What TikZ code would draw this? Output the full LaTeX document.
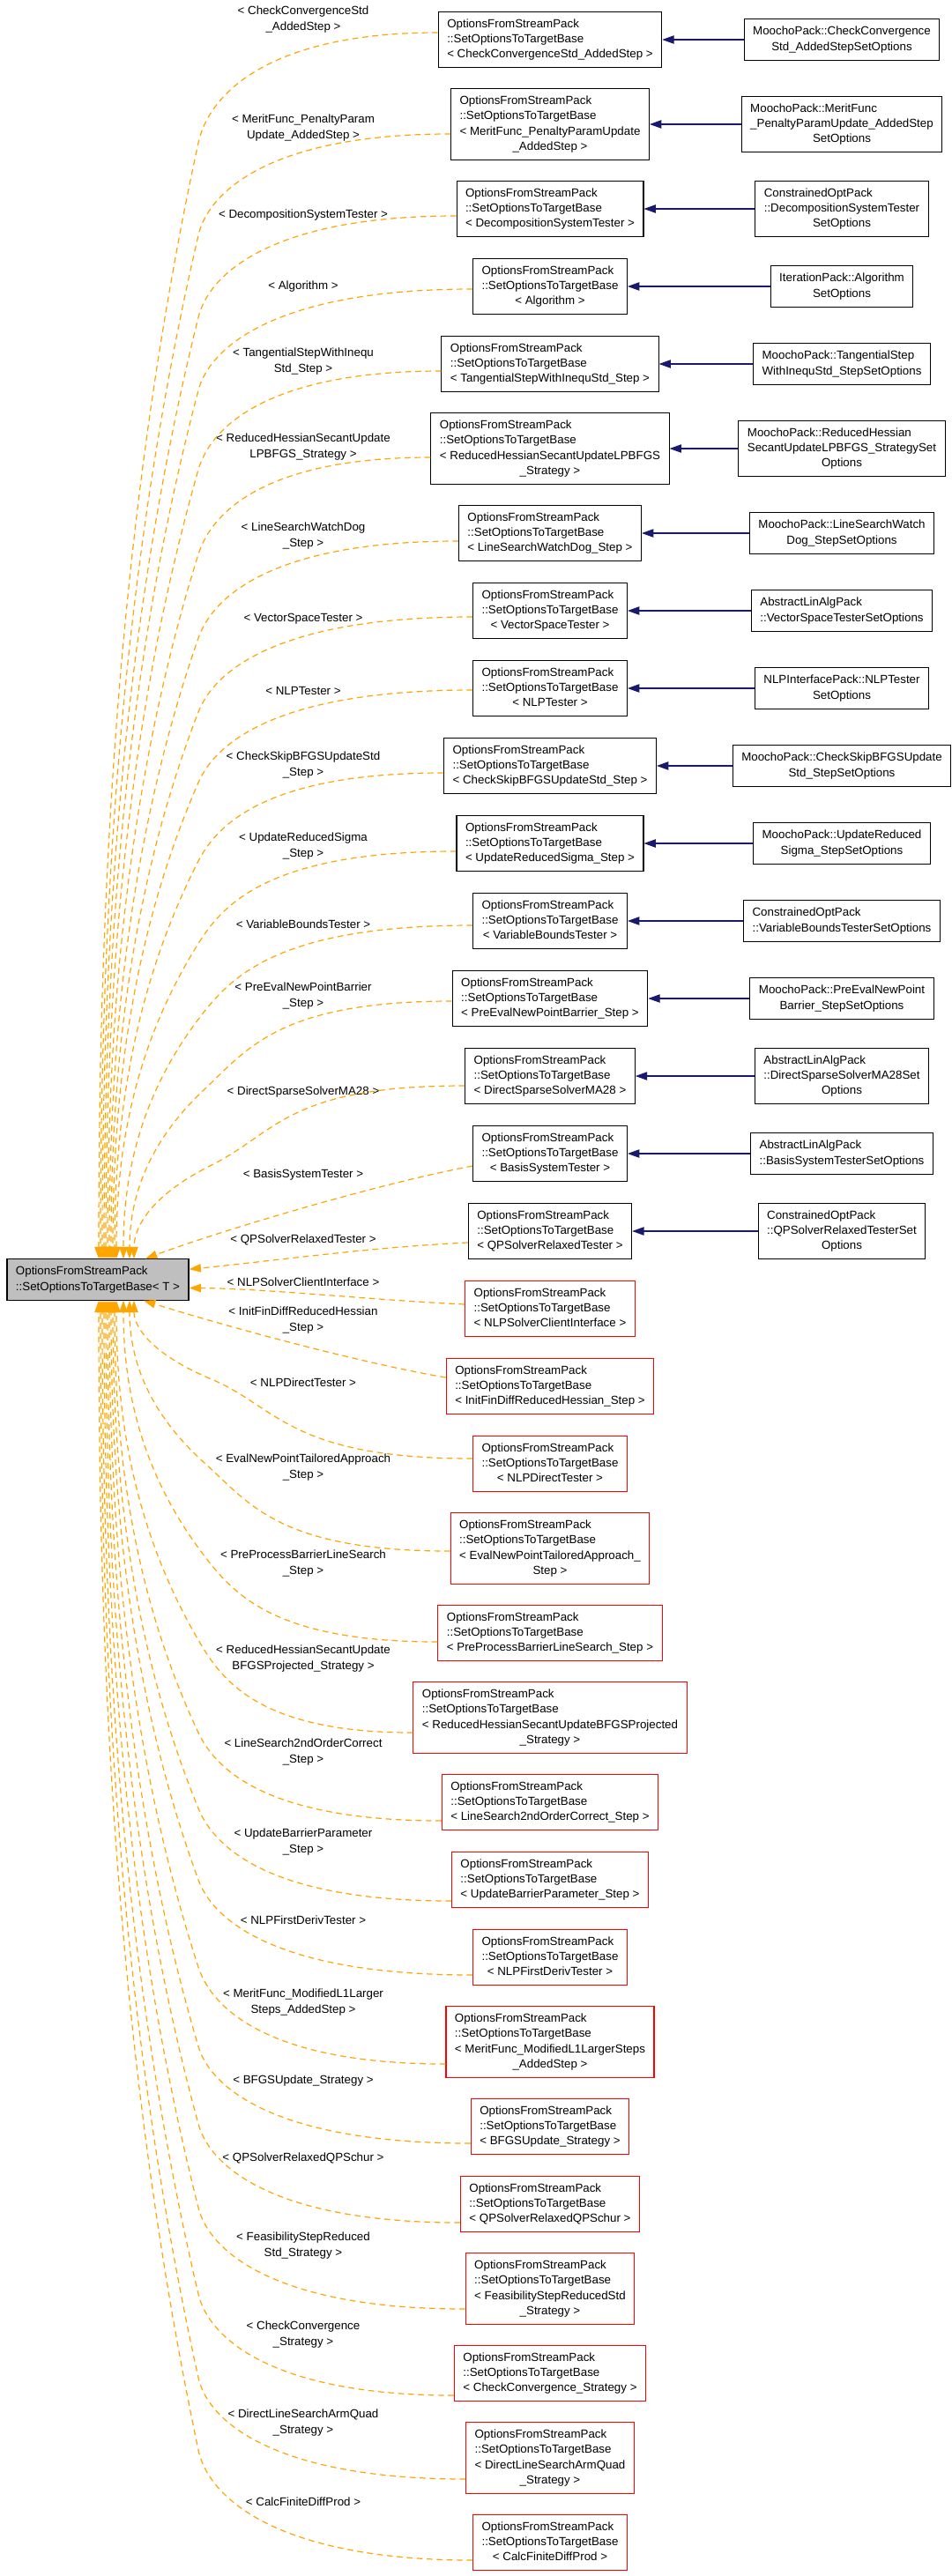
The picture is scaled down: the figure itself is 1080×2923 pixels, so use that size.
\documentclass[tikz,border=0pt]{standalone}
\usepackage{fontspec}
\setmainfont{Liberation Sans}
\usetikzlibrary{calc,arrows.meta}
\definecolor{midnight}{rgb}{0.098,0.098,0.439}
\definecolor{tmplorange}{rgb}{1.0,0.647,0.0}
\definecolor{basegray}{rgb}{0.75,0.75,0.75}
\tikzset{
  cls/.style={draw=black, line width=0.8pt, fill=white, inner xsep=7.5pt, inner ysep=4.4pt,
    font=\fontsize{10}{13}\selectfont},
  undoc/.style={cls, draw=red},
  base/.style={cls, fill=basegray},
  lbl/.style={font=\fontsize{10}{13}\selectfont, align=center, inner sep=0pt},
  pub/.style={draw=midnight, line width=0.8pt, -{Triangle[length=10pt,width=7pt]}},
  tmpl/.style={draw=tmplorange, line width=0.9pt, dash pattern=on 5pt off 3.5pt,
    -{Triangle[length=10pt,width=7pt]}},
}
% class name: all lines left, last line centred
\newcommand{\cname}[2]{\begin{tabular}{@{}l@{}}#1\\\multicolumn{1}{@{}c@{}}{#2}\end{tabular}}
\newcommand{\tgt}[2]{\cname{OptionsFromStreamPack\\::SetOptionsToTargetBase#1}{#2}}

\begin{document}
\begin{tikzpicture}[x=0.75pt, y=-0.75pt]
  \def\xm{624}   % middle column
  \def\xr{955}   % right column
  \def\xl{344}   % edge labels
  \def\btop{1429} % top of base box
  \def\bbot{1475} % bottom of base box
  \fill[white] (0,0) rectangle (1080,2923);
  \useasboundingbox (0,0) rectangle (1080,2923);

  \node[base] (base) at (111,1452) {\cname{OptionsFromStreamPack}{::SetOptionsToTargetBase< T >}};

  % documented instantiations
  \node[cls] (m1) at (\xm,45) {\tgt{}{< CheckConvergenceStd\_AddedStep >}};
  \node[cls] (m2) at (\xm,141) {\tgt{\\< MeritFunc\_PenaltyParamUpdate}{\_AddedStep >}};
  \node[cls] (m3) at (\xm,237) {\tgt{}{< DecompositionSystemTester >}};
  \node[cls] (m4) at (\xm,325) {\tgt{}{< Algorithm >}};
  \node[cls] (m5) at (\xm,413) {\tgt{}{< TangentialStepWithInequStd\_Step >}};
  \node[cls] (m6) at (\xm,509) {\tgt{\\< ReducedHessianSecantUpdateLPBFGS}{\_Strategy >}};
  \node[cls] (m7) at (\xm,605) {\tgt{}{< LineSearchWatchDog\_Step >}};
  \node[cls] (m8) at (\xm,693) {\tgt{}{< VectorSpaceTester >}};
  \node[cls] (m9) at (\xm,781) {\tgt{}{< NLPTester >}};
  \node[cls] (m10) at (\xm,869) {\tgt{}{< CheckSkipBFGSUpdateStd\_Step >}};
  \node[cls] (m11) at (\xm,957) {\tgt{}{< UpdateReducedSigma\_Step >}};
  \node[cls] (m12) at (\xm,1045) {\tgt{}{< VariableBoundsTester >}};
  \node[cls] (m13) at (\xm,1133) {\tgt{}{< PreEvalNewPointBarrier\_Step >}};
  \node[cls] (m14) at (\xm,1221) {\tgt{}{< DirectSparseSolverMA28 >}};
  \node[cls] (m15) at (\xm,1309) {\tgt{}{< BasisSystemTester >}};
  \node[cls] (m16) at (\xm,1397) {\tgt{}{< QPSolverRelaxedTester >}};
  % undocumented instantiations
  \node[undoc] (m17) at (\xm,1485) {\tgt{}{< NLPSolverClientInterface >}};
  \node[undoc] (m18) at (\xm,1573) {\tgt{}{< InitFinDiffReducedHessian\_Step >}};
  \node[undoc] (m19) at (\xm,1661) {\tgt{}{< NLPDirectTester >}};
  \node[undoc] (m20) at (\xm,1757) {\tgt{\\< EvalNewPointTailoredApproach\_}{Step >}};
  \node[undoc] (m21) at (\xm,1853) {\tgt{}{< PreProcessBarrierLineSearch\_Step >}};
  \node[undoc] (m22) at (\xm,1949) {\tgt{\\< ReducedHessianSecantUpdateBFGSProjected}{\_Strategy >}};
  \node[undoc] (m23) at (\xm,2045) {\tgt{}{< LineSearch2ndOrderCorrect\_Step >}};
  \node[undoc] (m24) at (\xm,2133) {\tgt{}{< UpdateBarrierParameter\_Step >}};
  \node[undoc] (m25) at (\xm,2221) {\tgt{}{< NLPFirstDerivTester >}};
  \node[undoc] (m26) at (\xm,2317) {\tgt{\\< MeritFunc\_ModifiedL1LargerSteps}{\_AddedStep >}};
  \node[undoc] (m27) at (\xm,2413) {\tgt{}{< BFGSUpdate\_Strategy >}};
  \node[undoc] (m28) at (\xm,2501) {\tgt{}{< QPSolverRelaxedQPSchur >}};
  \node[undoc] (m29) at (\xm,2597) {\tgt{\\< FeasibilityStepReducedStd}{\_Strategy >}};
  \node[undoc] (m30) at (\xm,2693) {\tgt{}{< CheckConvergence\_Strategy >}};
  \node[undoc] (m31) at (\xm,2789) {\tgt{\\< DirectLineSearchArmQuad}{\_Strategy >}};
  \node[undoc] (m32) at (\xm,2885) {\tgt{}{< CalcFiniteDiffProd >}};

  % derived SetOptions classes
  \node[cls] (r1) at (\xr,45) {\cname{MoochoPack::CheckConvergence}{Std\_AddedStepSetOptions}};
  \node[cls] (r2) at (\xr,141) {\cname{MoochoPack::MeritFunc\\\_PenaltyParamUpdate\_AddedStep}{SetOptions}};
  \node[cls] (r3) at (\xr,237) {\cname{ConstrainedOptPack\\::DecompositionSystemTester}{SetOptions}};
  \node[cls] (r4) at (\xr,325) {\cname{IterationPack::Algorithm}{SetOptions}};
  \node[cls] (r5) at (\xr,413) {\cname{MoochoPack::TangentialStep}{WithInequStd\_StepSetOptions}};
  \node[cls] (r6) at (\xr,509) {\cname{MoochoPack::ReducedHessian\\SecantUpdateLPBFGS\_StrategySet}{Options}};
  \node[cls] (r7) at (\xr,605) {\cname{MoochoPack::LineSearchWatch}{Dog\_StepSetOptions}};
  \node[cls] (r8) at (\xr,693) {\cname{AbstractLinAlgPack}{::VectorSpaceTesterSetOptions}};
  \node[cls] (r9) at (\xr,781) {\cname{NLPInterfacePack::NLPTester}{SetOptions}};
  \node[cls] (r10) at (\xr,869) {\cname{MoochoPack::CheckSkipBFGSUpdate}{Std\_StepSetOptions}};
  \node[cls] (r11) at (\xr,957) {\cname{MoochoPack::UpdateReduced}{Sigma\_StepSetOptions}};
  \node[cls] (r12) at (\xr,1045) {\cname{ConstrainedOptPack}{::VariableBoundsTesterSetOptions}};
  \node[cls] (r13) at (\xr,1133) {\cname{MoochoPack::PreEvalNewPoint}{Barrier\_StepSetOptions}};
  \node[cls] (r14) at (\xr,1221) {\cname{AbstractLinAlgPack\\::DirectSparseSolverMA28Set}{Options}};
  \node[cls] (r15) at (\xr,1309) {\cname{AbstractLinAlgPack}{::BasisSystemTesterSetOptions}};
  \node[cls] (r16) at (\xr,1397) {\cname{ConstrainedOptPack\\::QPSolverRelaxedTesterSet}{Options}};

  % edge labels
  \node[lbl] (l1) at (\xl,22) {< CheckConvergenceStd\\\_AddedStep >};
  \node[lbl] (l2) at (\xl,145) {< MeritFunc\_PenaltyParam\\Update\_AddedStep >};
  \node[lbl] (l3) at (\xl,244) {< DecompositionSystemTester >};
  \node[lbl] (l4) at (\xl,325) {< Algorithm >};
  \node[lbl] (l5) at (\xl,410) {< TangentialStepWithInequ\\Std\_Step >};
  \node[lbl] (l6) at (\xl,507) {< ReducedHessianSecantUpdate\\LPBFGS\_Strategy >};
  \node[lbl] (l7) at (\xl,608) {< LineSearchWatchDog\\\_Step >};
  \node[lbl] (l8) at (\xl,702) {< VectorSpaceTester >};
  \node[lbl] (l9) at (\xl,784) {< NLPTester >};
  \node[lbl] (l10) at (\xl,868) {< CheckSkipBFGSUpdateStd\\\_Step >};
  \node[lbl] (l11) at (\xl,960) {< UpdateReducedSigma\\\_Step >};
  \node[lbl] (l12) at (\xl,1049) {< VariableBoundsTester >};
  \node[lbl] (l13) at (\xl,1130) {< PreEvalNewPointBarrier\\\_Step >};
  \node[lbl] (l14) at (\xl,1239) {< DirectSparseSolverMA28 >};
  \node[lbl] (l15) at (\xl,1333) {< BasisSystemTester >};
  \node[lbl] (l16) at (\xl,1407) {< QPSolverRelaxedTester >};
  \node[lbl] (l17) at (\xl,1455) {< NLPSolverClientInterface >};
  \node[lbl] (l18) at (\xl,1498) {< InitFinDiffReducedHessian\\\_Step >};
  \node[lbl] (l19) at (\xl,1569) {< NLPDirectTester >};
  \node[lbl] (l20) at (\xl,1665) {< EvalNewPointTailoredApproach\\\_Step >};
  \node[lbl] (l21) at (\xl,1774) {< PreProcessBarrierLineSearch\\\_Step >};
  \node[lbl] (l22) at (\xl,1882) {< ReducedHessianSecantUpdate\\BFGSProjected\_Strategy >};
  \node[lbl] (l23) at (\xl,1988) {< LineSearch2ndOrderCorrect\\\_Step >};
  \node[lbl] (l24) at (\xl,2090) {< UpdateBarrierParameter\\\_Step >};
  \node[lbl] (l25) at (\xl,2179) {< NLPFirstDerivTester >};
  \node[lbl] (l26) at (\xl,2272) {< MeritFunc\_ModifiedL1Larger\\Steps\_AddedStep >};
  \node[lbl] (l27) at (\xl,2361) {< BFGSUpdate\_Strategy >};
  \node[lbl] (l28) at (\xl,2449) {< QPSolverRelaxedQPSchur >};
  \node[lbl] (l29) at (\xl,2548) {< FeasibilityStepReduced\\Std\_Strategy >};
  \node[lbl] (l30) at (\xl,2649) {< CheckConvergence\\\_Strategy >};
  \node[lbl] (l31) at (\xl,2749) {< DirectLineSearchArmQuad\\\_Strategy >};
  \node[lbl] (l32) at (\xl,2839) {< CalcFiniteDiffProd >};

  % public inheritance
  \foreach \i in {1,...,16} {
    \draw[pub] (r\i) -- (m\i);
  }

  % template instances, upper fan into top of base
  \foreach \i/\sy/\ex/\kx/\h in {1/37/112/225/125, 2/152/114/225/115, 3/245/116/225/115,
      4/328/118/225/115, 5/421/120/225/112, 6/519/122/225/110, 7/614/124/225/110,
      8/700/126/225/108, 9/783/128/225/105, 10/877/130/225/100, 11/966/132/228/100,
      12/1050/140/230/100, 13/1136/147/232/100, 14/1232/152/240/90} {
    \pgfmathsetmacro\ky{\sy+\h}
    \pgfmathsetmacro\L{\btop-\ky}
    \pgfmathsetmacro\dA{min(0.45*\h,0.35*\L)}
    \pgfmathsetmacro\cAx{\kx+2.43*(\kx-\ex)*\dA/\L}
    \pgfmathsetmacro\cAy{\ky-\dA}
    \pgfmathsetmacro\cBx{\ex+0.15*(\kx-\ex)}
    \pgfmathsetmacro\cBy{\ky+0.35*\L}
    \pgfmathsetmacro\cCy{\btop-0.3*\L}
    \coordinate (s\i) at (m\i.west |- 0,\sy);
    \draw[tmpl] (s\i) .. controls ($(s\i)!0.7!(\kx,\sy)$) and (\cAx,\cAy) .. (\kx,\ky)
      .. controls (\cBx,\cBy) and (\ex,\cCy) .. (\ex,0 |- base.north);
  }
  % template instances, lower fan into bottom of base
  \foreach \i/\sy/\ex/\kx/\h in {32/2905/112/225/125, 31/2813/114/225/115, 30/2718/116/225/115,
      29/2620/118/225/115, 28/2522/120/225/112, 27/2432/122/225/110, 26/2342/124/225/110,
      25/2241/126/225/108, 24/2157/128/225/105, 23/2066/130/225/100, 22/1966/132/228/100,
      21/1863/140/230/100, 20/1760/147/232/100, 19/1655/152/240/90} {
    \pgfmathsetmacro\ky{\sy-\h}
    \pgfmathsetmacro\L{\ky-\bbot}
    \pgfmathsetmacro\dA{min(0.45*\h,0.35*\L)}
    \pgfmathsetmacro\cAx{\kx+2.43*(\kx-\ex)*\dA/\L}
    \pgfmathsetmacro\cAy{\ky+\dA}
    \pgfmathsetmacro\cBx{\ex+0.15*(\kx-\ex)}
    \pgfmathsetmacro\cBy{\ky-0.35*\L}
    \pgfmathsetmacro\cCy{\bbot+0.3*\L}
    \coordinate (s\i) at (m\i.west |- 0,\sy);
    \draw[tmpl] (s\i) .. controls ($(s\i)!0.7!(\kx,\sy)$) and (\cAx,\cAy) .. (\kx,\ky)
      .. controls (\cBx,\cBy) and (\ex,\cCy) .. (\ex,0 |- base.south);
  }
  % the four nearest ones
  \draw[tmpl] (m15.west |- 0,1323) .. controls (420,1345) and (240,1400) .. (165,0 |- base.north);
  \draw[tmpl] (m16.west |- 0,1410) .. controls (420,1415) and (300,1432) .. ($(base.north east)!0.25!(base.south east)$);
  \draw[tmpl] (m17.west |- 0,1480) .. controls (420,1475) and (300,1462) .. ($(base.north east)!0.7!(base.south east)$);
  \draw[tmpl] (m18.west |- 0,1563) .. controls (400,1545) and (240,1500) .. (163,0 |- base.south);
\end{tikzpicture}
\end{document}
